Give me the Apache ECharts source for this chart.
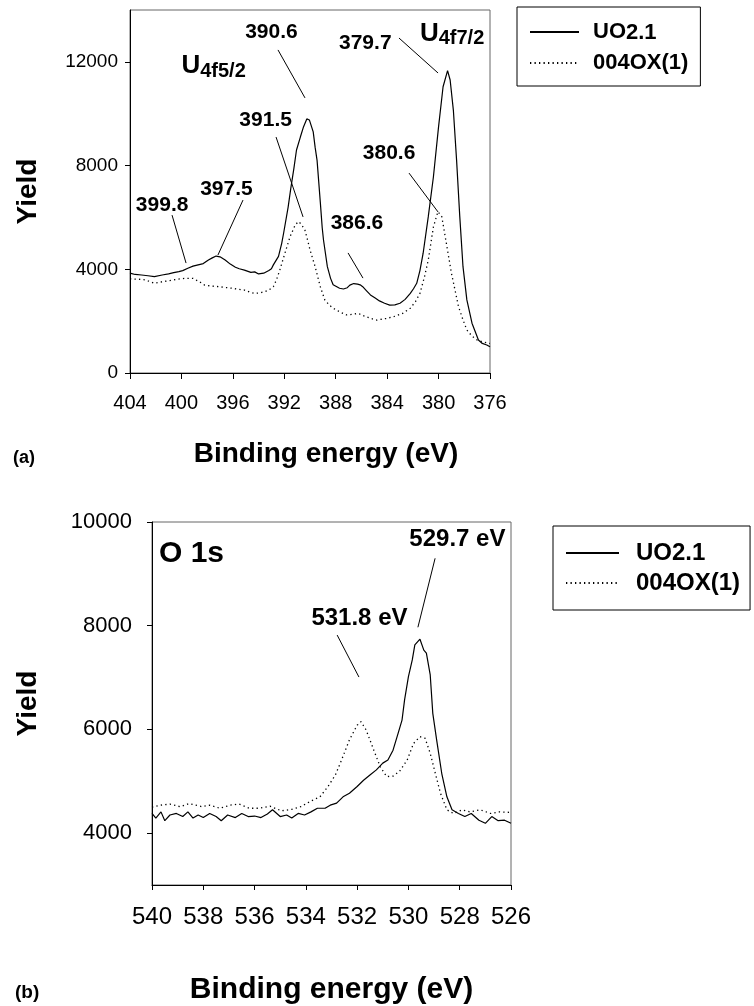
<!DOCTYPE html>
<html>
<head>
<meta charset="utf-8">
<script src="https://cdn.jsdelivr.net/npm/echarts/dist/echarts.min.js"></script>
<style>
  html, body { margin: 0; padding: 0; background: #fff; }
  #main { width: 754px; height: 1006px; }
</style>
</head>
<body>
<div id="main"></div>
<script>
// series names
const seriesNames = ['UO2.1', '004OX(1)'];

// (a) U 4f region: [binding energy eV, yield]
const uoU4f = [
  [404.0, 3850], [403.6, 3800], [403.1, 3780], [402.6, 3750], [402.1, 3720], [401.5, 3780],
  [401.0, 3820], [400.6, 3870], [400.2, 3910], [399.9, 3950], [399.5, 4040], [399.1, 4120],
  [398.7, 4170], [398.3, 4220], [397.9, 4360], [397.6, 4440], [397.3, 4510], [397.0, 4480],
  [396.6, 4360], [396.2, 4200], [395.8, 4080], [395.5, 4020], [395.1, 3970], [394.6, 3880],
  [394.3, 3900], [394.0, 3820], [393.6, 3850], [393.2, 3950], [393.0, 4020], [392.85, 4170],
  [392.7, 4230], [392.45, 4500], [392.2, 5000], [392.05, 5400], [391.7, 6400], [391.5, 7100],
  [391.25, 7900], [391.05, 8600], [390.75, 9100], [390.5, 9500], [390.25, 9800], [390.15, 9820],
  [390.05, 9760], [389.9, 9700], [389.75, 9300], [389.6, 8700], [389.45, 8200], [389.2, 6600],
  [389.05, 5600], [388.95, 5130], [388.65, 4100], [388.4, 3650], [388.2, 3400], [388.05, 3330],
  [387.7, 3270], [387.4, 3240], [387.1, 3290], [386.9, 3390], [386.6, 3450], [386.3, 3430],
  [386.1, 3400], [385.9, 3330], [385.6, 3170], [385.3, 3010], [384.9, 2880], [384.6, 2780],
  [384.2, 2690], [383.8, 2620], [383.4, 2630], [383.0, 2690], [382.6, 2840], [382.2, 3070],
  [381.95, 3250], [381.7, 3460], [381.45, 3950], [381.2, 4620], [380.8, 6030], [380.4, 7570],
  [380.0, 9500], [379.65, 11040], [379.3, 11660], [379.1, 11300], [378.85, 10140], [378.6, 8220],
  [378.35, 6030], [378.1, 4100], [377.8, 2820], [377.4, 1920], [376.9, 1270], [376.6, 1140],
  [376.25, 1080], [376.0, 1010]
];
const oxU4f = [
  [404.0, 3630], [403.4, 3620], [402.8, 3590], [402.1, 3460], [401.5, 3520], [401.0, 3560],
  [400.3, 3620], [399.7, 3650], [399.1, 3650], [398.6, 3520], [398.2, 3390], [397.6, 3350],
  [397.1, 3330], [396.6, 3300], [396.1, 3270], [395.6, 3230], [395.1, 3200], [394.7, 3120],
  [394.3, 3070], [393.9, 3090], [393.5, 3140], [393.2, 3200], [392.85, 3330], [392.6, 3600],
  [392.35, 3970], [391.95, 4620], [391.55, 5260], [391.15, 5710], [390.9, 5840], [390.7, 5750],
  [390.4, 5520], [390.2, 5150], [390.0, 4750], [389.6, 4100], [389.2, 3330], [388.85, 2820],
  [388.5, 2620], [388.2, 2500], [387.7, 2360], [387.15, 2240], [386.7, 2260], [386.25, 2300],
  [385.8, 2200], [385.3, 2110], [384.8, 2040], [384.1, 2100], [383.5, 2170], [382.8, 2300],
  [382.2, 2500], [381.8, 2750], [381.45, 3070], [381.1, 3700], [380.8, 4360], [380.4, 5640],
  [380.05, 6220], [379.75, 6030], [379.35, 4870], [379.0, 3850], [378.7, 3150], [378.45, 2560],
  [378.1, 2050], [377.8, 1660], [377.4, 1420], [377.0, 1270], [376.5, 1190], [376.0, 1140]
];

// (b) O 1s region
const uoO1s = [
  [540.0, 4380], [539.85, 4290], [539.65, 4410], [539.5, 4240], [539.3, 4350], [539.05, 4380],
  [538.8, 4320], [538.6, 4410], [538.4, 4290], [538.2, 4350], [538.0, 4300], [537.75, 4380],
  [537.5, 4320], [537.3, 4240], [537.05, 4350], [536.75, 4300], [536.5, 4380], [536.25, 4320],
  [536.0, 4330], [535.75, 4300], [535.5, 4370], [535.3, 4450], [535.0, 4320], [534.75, 4350],
  [534.55, 4290], [534.3, 4380], [534.05, 4350], [533.8, 4410], [533.55, 4480], [533.25, 4480],
  [533.05, 4540], [532.8, 4580], [532.55, 4700], [532.3, 4770], [532.0, 4900], [531.75, 5020],
  [531.5, 5120], [531.25, 5220], [531.0, 5350], [530.8, 5410], [530.6, 5600], [530.4, 5930],
  [530.25, 6180], [530.15, 6570], [530.0, 7020], [529.85, 7340], [529.75, 7630], [529.55, 7740],
  [529.4, 7530], [529.3, 7470], [529.15, 7050], [529.05, 6310], [528.9, 5800], [528.7, 5150],
  [528.5, 4700], [528.3, 4450], [528.05, 4380], [527.8, 4320], [527.55, 4380], [527.25, 4250],
  [527.0, 4190], [526.75, 4320], [526.5, 4240], [526.25, 4250], [526.0, 4190]
];
const oxO1s = [
  [540.0, 4500], [539.65, 4540], [539.3, 4560], [538.9, 4510], [538.55, 4570], [538.05, 4510],
  [537.75, 4540], [537.35, 4480], [536.95, 4540], [536.6, 4560], [536.2, 4480], [535.8, 4480],
  [535.4, 4520], [534.95, 4430], [534.55, 4460], [534.2, 4510], [533.8, 4620], [533.45, 4700],
  [533.15, 4890], [532.85, 5120], [532.6, 5420], [532.3, 5800], [532.0, 6080], [531.85, 6150],
  [531.65, 5990], [531.35, 5600], [531.1, 5280], [530.85, 5090], [530.6, 5100], [530.35, 5190],
  [530.05, 5410], [529.8, 5730], [529.55, 5860], [529.35, 5830], [529.15, 5540], [528.95, 5150],
  [528.75, 4770], [528.5, 4450], [528.25, 4380], [527.9, 4450], [527.6, 4410], [527.2, 4450],
  [526.8, 4380], [526.45, 4410], [526.0, 4400]
];

// tick labels
const yTicksA = [0, 4000, 8000, 12000];
const yTicksB = [4000, 6000, 8000, 10000];

const font = 'Liberation Sans, Arial, Helvetica, sans-serif';

// peak labels (text, anchor in data coords) and leader lines
const notesA = [
  { text: '390.6', at: [393.0, 13150] },
  { text: '391.5', at: [393.45, 9760] },
  { text: '397.5', at: [396.5, 7100] },
  { text: '399.8', at: [401.5, 6480] },
  { text: '386.6', at: [386.35, 5790] },
  { text: '380.6', at: [383.85, 8490] },
  { text: '379.7', at: [385.7, 12730] },
  { text: '{u|U}{s|4f5/2}', at: [397.5, 11840] },
  { text: '{u|U}{s|4f7/2}', at: [378.95, 13100] }
];
const leadersA = [
  [[392.49, 12460], [390.39, 10610]],
  [[392.64, 9100], [390.54, 6020]],
  [[395.21, 6670], [397.16, 4550]],
  [[400.73, 6090], [399.64, 4240]],
  [[387.04, 4630], [385.88, 3660]],
  [[382.30, 7710], [380.04, 6210]],
  [[383.08, 12920], [380.04, 11570]]
];
const notesB = [
  { text: '531.8 eV', at: [531.91, 8150] },
  { text: '529.7 eV', at: [528.09, 9670] }
];
const leadersB = [
  [[532.78, 7820], [531.93, 7010]],
  [[528.96, 9300], [529.63, 7970]]
];

const chart = echarts.init(document.getElementById('main'), null, { renderer: 'canvas' });

function noteData(list, size) {
  return list.map(n => ({
    coord: n.at,
    name: n.text,
    label: { show: true, formatter: n.text, position: 'inside', fontSize: size, fontWeight: 'bold', color: '#000', fontFamily: font,
      rich: {
        u: { fontSize: 26, fontWeight: 'bold', fontFamily: font, lineHeight: 30, verticalAlign: 'middle', color: '#000' },
        s: { fontSize: 20, fontWeight: 'bold', fontFamily: font, lineHeight: 20, verticalAlign: 'bottom', color: '#000' }
      } }
  }));
}
function leaderData(list) {
  return list.map(l => [{ coord: l[0] }, { coord: l[1] }]);
}

const axisLine = { show: true, lineStyle: { color: '#000', width: 1 } };
const plain = v => String(v);

const option = {
  backgroundColor: '#fff',
  animation: false,
  textStyle: { fontFamily: font },
  grid: [
    { left: 130, top: 10, width: 360, height: 363, show: true, borderColor: '#666', borderWidth: 1, backgroundColor: 'transparent' },
    { left: 152, top: 522, width: 359, height: 363, show: true, borderColor: '#666', borderWidth: 1, backgroundColor: 'transparent' }
  ],
  legend: [
    {
      data: seriesNames, orient: 'vertical', left: 517, top: 7,
      borderColor: '#000', borderWidth: 1, padding: [14, 12, 12, 12],
      itemWidth: 49, itemHeight: 14, itemGap: 8, selectedMode: false,
      itemStyle: { opacity: 0 },
      formatter: name => name === 'UO2.1' ? '{a|UO}{b|2.1}' : '{a|' + name + '}',
      textStyle: {
        padding: [0, 0, 0, 9],
        rich: {
          a: { fontSize: 22, fontWeight: 'bold', fontFamily: font, color: '#000', lineHeight: 24, verticalAlign: 'middle' },
          b: { fontSize: 22, fontWeight: 'bold', fontFamily: font, color: '#000', lineHeight: 18, verticalAlign: 'bottom' }
        }
      }
    },
    {
      data: seriesNames, orient: 'vertical', left: 553, top: 526,
      borderColor: '#000', borderWidth: 1, padding: [15, 10, 15, 12],
      itemWidth: 53, itemHeight: 14, itemGap: 6, selectedMode: false,
      itemStyle: { opacity: 0 },
      textStyle: { fontSize: 24, fontWeight: 'bold', color: '#000', fontFamily: font, lineHeight: 24, padding: [0, 0, 0, 12] }
    }
  ],
  xAxis: [
    {
      gridIndex: 0, type: 'value', min: 376, max: 404, interval: 4, inverse: true,
      name: 'Binding energy (eV)', nameLocation: 'middle', nameGap: 67,
      nameTextStyle: { fontSize: 28, fontWeight: 'bold', color: '#000', fontFamily: font, padding: [0, 0, 0, 32] },
      axisLine: axisLine, axisTick: { show: true, length: 6, lineStyle: { color: '#000' } },
      axisLabel: { fontSize: 20, color: '#000', margin: 20, fontFamily: font, formatter: plain },
      splitLine: { show: false }
    },
    {
      gridIndex: 1, type: 'value', min: 526, max: 540, interval: 2, inverse: true,
      name: 'Binding energy (eV)', nameLocation: 'middle', nameGap: 90,
      nameTextStyle: { fontSize: 30, fontWeight: 'bold', color: '#000', fontFamily: font },
      axisLine: axisLine, axisTick: { show: true, length: 5, lineStyle: { color: '#000' } },
      axisLabel: { fontSize: 24, color: '#000', margin: 20, fontFamily: font, formatter: plain },
      splitLine: { show: false }
    }
  ],
  yAxis: [
    {
      gridIndex: 0, type: 'value', min: 0, max: 14000,
      name: 'Yield', nameLocation: 'middle', nameGap: 88, nameRotate: 90,
      nameTextStyle: { fontSize: 28, fontWeight: 'bold', color: '#000', fontFamily: font },
      axisLine: axisLine,
      axisTick: { show: true, length: 5, customValues: yTicksA, lineStyle: { color: '#000' } },
      axisLabel: { fontSize: 19, color: '#000', margin: 12, fontFamily: font, customValues: yTicksA, formatter: plain },
      splitLine: { show: false }
    },
    {
      gridIndex: 1, type: 'value', min: 3000, max: 10000,
      name: 'Yield', nameLocation: 'middle', nameGap: 110, nameRotate: 90,
      nameTextStyle: { fontSize: 28, fontWeight: 'bold', color: '#000', fontFamily: font },
      axisLine: axisLine,
      axisTick: { show: true, length: 5, customValues: yTicksB, lineStyle: { color: '#000' } },
      axisLabel: { fontSize: 22, color: '#000', margin: 20, fontFamily: font, customValues: yTicksB, formatter: plain },
      splitLine: { show: false }
    }
  ],
  series: [
    {
      name: seriesNames[0], type: 'line', xAxisIndex: 0, yAxisIndex: 0, data: uoU4f,
      symbol: 'none', color: '#000', lineStyle: { color: '#000', width: 1.2 },
      markPoint: { symbol: 'circle', symbolSize: 1, itemStyle: { color: 'transparent' }, data: noteData(notesA, 21), silent: true },
      markLine: { symbol: ['none', 'none'], silent: true, label: { show: false },
        lineStyle: { color: '#000', width: 1, type: 'solid' }, data: leaderData(leadersA) }
    },
    {
      name: seriesNames[1], type: 'line', xAxisIndex: 0, yAxisIndex: 0, data: oxU4f,
      symbol: 'none', color: '#000', lineStyle: { color: '#000', width: 1.3, type: [1.3, 3.2] }
    },
    {
      name: seriesNames[0], type: 'line', xAxisIndex: 1, yAxisIndex: 1, data: uoO1s,
      symbol: 'none', color: '#000', lineStyle: { color: '#000', width: 1.2 },
      markPoint: { symbol: 'circle', symbolSize: 1, itemStyle: { color: 'transparent' }, data: noteData(notesB, 24), silent: true },
      markLine: { symbol: ['none', 'none'], silent: true, label: { show: false },
        lineStyle: { color: '#000', width: 1, type: 'solid' }, data: leaderData(leadersB) }
    },
    {
      name: seriesNames[1], type: 'line', xAxisIndex: 1, yAxisIndex: 1, data: oxO1s,
      symbol: 'none', color: '#000', lineStyle: { color: '#000', width: 1.3, type: [1.3, 3.2] }
    }
  ],
  graphic: [
    { type: 'text', left: 13, top: 449, style: { text: '(a)', fill: '#000', font: 'bold 18px ' + font } },
    { type: 'text', left: 15, top: 983, style: { text: '(b)', fill: '#000', font: 'bold 19px ' + font } },
    { type: 'text', left: 159, top: 539, style: { text: 'O 1s', fill: '#000', font: 'bold 30px ' + font } }
  ]
};

chart.setOption(option);
</script>
</body>
</html>
